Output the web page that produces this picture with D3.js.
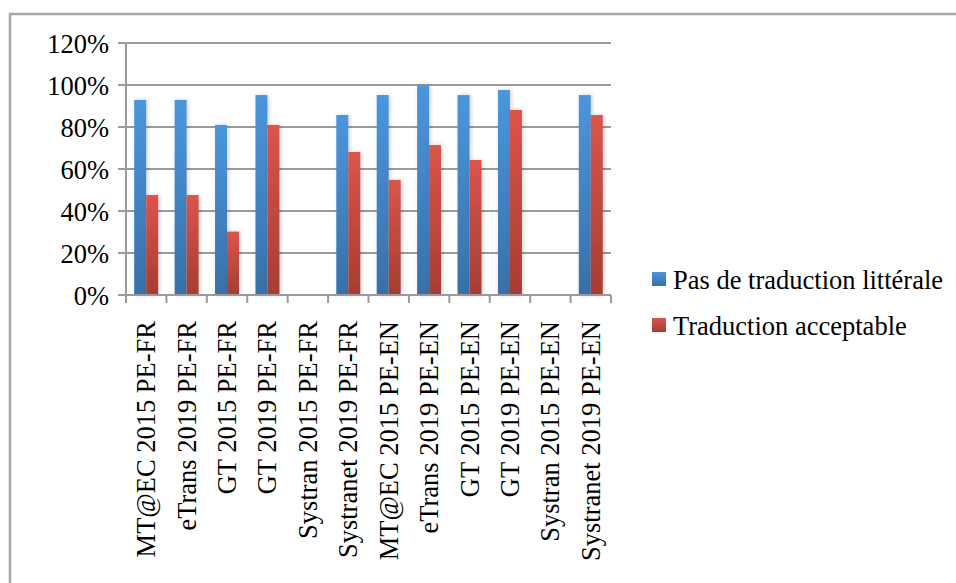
<!DOCTYPE html>
<html>
<head>
<meta charset="utf-8">
<script src="https://cdn.jsdelivr.net/npm/d3@7"></script>
<style>
  body { margin: 0; background: #fff; }
</style>
</head>
<body>
<svg id="chart"></svg>
<script>
// Catégories (axe X)
const categories = [
  "MT@EC 2015 PE-FR", "eTrans 2019 PE-FR", "GT 2015 PE-FR", "GT 2019 PE-FR",
  "Systran 2015 PE-FR", "Systranet 2019 PE-FR", "MT@EC 2015 PE-EN", "eTrans 2019 PE-EN",
  "GT 2015 PE-EN", "GT 2019 PE-EN", "Systran 2015 PE-EN", "Systranet 2019 PE-EN"
];
const seriesNames = ["Pas de traduction littérale", "Traduction acceptable"];
// Valeurs (en fraction), null = pas de barre
const pasLitterale = [0.929, 0.929, 0.81, 0.952, null, 0.857, 0.952, 1.0, 0.952, 0.976, null, 0.952];
const acceptable   = [0.476, 0.476, 0.302, 0.81, null, 0.681, 0.548, 0.714, 0.643, 0.881, null, 0.857];
const yTicks = [0, 0.2, 0.4, 0.6, 0.8, 1.0, 1.2];

const FONT = "'Liberation Serif', 'Times New Roman', 'DejaVu Serif', serif";
const W = 956, H = 583;
const margin = { left: 126, top: 43, right: 345, bottom: 288 };
const width = W - margin.left - margin.right;
const height = H - margin.top - margin.bottom;

const svg = d3.select("#chart").attr("width", W).attr("height", H)
  .attr("font-family", FONT);

// cadre extérieur
svg.append("rect")
  .attr("x", 10).attr("y", 14).attr("width", 960).attr("height", 600)
  .attr("fill", "none").attr("stroke", "#a6a6a6").attr("stroke-width", 2.5);

// dégradés
const defs = svg.append("defs");
const grads = [["gBlue", "#4b96dc", "#3870a8"], ["gRed", "#db544b", "#a63d34"]];
grads.forEach(([id, c1, c2]) => {
  const g = defs.append("linearGradient").attr("id", id)
    .attr("x1", 0).attr("y1", 0).attr("x2", 0).attr("y2", 1);
  g.append("stop").attr("offset", "0%").attr("stop-color", c1);
  g.append("stop").attr("offset", "100%").attr("stop-color", c2);
});
const f = defs.append("filter").attr("id", "shadow")
  .attr("x", "-30%").attr("y", "-10%").attr("width", "160%").attr("height", "120%");
f.append("feDropShadow").attr("dx", 1.5).attr("dy", 0).attr("stdDeviation", 2)
  .attr("flood-color", "#000").attr("flood-opacity", 0.18);

const g = svg.append("g").attr("transform", `translate(${margin.left},${margin.top})`);

const x = d3.scaleBand().domain(categories).range([0, width]).paddingInner(0).paddingOuter(0);
const xSub = d3.scaleBand().domain(seriesNames).range([0, 24]);
const y = d3.scaleLinear().domain([0, 1.2]).range([height, 0]);

// grille
g.append("g").selectAll("line").data(yTicks).join("line")
  .attr("x1", -8).attr("x2", width)
  .attr("y1", d => y(d)).attr("y2", d => y(d))
  .attr("stroke", "#9a9a9a").attr("stroke-width", 2);

// axe Y
const yAxis = g.append("g")
  .call(d3.axisLeft(y).tickValues(yTicks).tickFormat(d3.format(".0%")).tickSize(8).tickPadding(6));
yAxis.attr("font-family", FONT).attr("font-size", null);
yAxis.select(".domain").remove();
yAxis.selectAll("line").remove();
yAxis.selectAll("text").attr("font-family", FONT).attr("font-size", "26.5px")
  .attr("fill", "#000").attr("dy", "0.36em").attr("x", -17);
g.append("line").attr("x1", 0).attr("x2", 0).attr("y1", y(1.2)).attr("y2", height + 8)
  .attr("stroke", "#9a9a9a").attr("stroke-width", 2);

// barres
const data = categories.map((c, i) => ({ c, vals: [pasLitterale[i], acceptable[i]] }));
const groups = g.append("g").selectAll("g").data(data).join("g")
  .attr("transform", d => `translate(${x(d.c) + (x.bandwidth() - 24) / 2},0)`);
groups.selectAll("rect")
  .data(d => d.vals.map((v, j) => ({ s: seriesNames[j], v, j })).filter(e => e.v != null))
  .join("rect")
  .attr("x", e => xSub(e.s)).attr("width", xSub.bandwidth())
  .attr("y", e => y(e.v)).attr("height", e => height - y(e.v))
  .attr("fill", e => e.j === 0 ? "url(#gBlue)" : "url(#gRed)")
  .attr("filter", "url(#shadow)");

// axe X
g.append("line").attr("x1", 0).attr("x2", width).attr("y1", height).attr("y2", height)
  .attr("stroke", "#9a9a9a").attr("stroke-width", 2);
g.append("g").selectAll("line").data(d3.range(categories.length + 1)).join("line")
  .attr("x1", i => i * x.step()).attr("x2", i => i * x.step())
  .attr("y1", height).attr("y2", height + 8)
  .attr("stroke", "#9a9a9a").attr("stroke-width", 2);
g.append("g").selectAll("text").data(categories).join("text")
  .attr("transform", d => `translate(${x(d) + x.bandwidth() / 2 + 9},${height + 26}) rotate(-90)`)
  .attr("text-anchor", "end")
  .attr("font-family", FONT)
  .attr("font-size", "26.5px")
  .text(d => d);

// légende
const legend = svg.append("g").attr("transform", "translate(652,272)");
const colors = ["url(#gBlue)", "url(#gRed)"];
seriesNames.forEach((s, i) => {
  const row = legend.append("g").attr("transform", `translate(0,${i * 46})`);
  row.append("rect").attr("width", 14).attr("height", 14).attr("fill", colors[i]);
  row.append("text").attr("x", 21).attr("y", 17).attr("font-family", FONT)
    .attr("font-size", "26.5px").text(s);
});
</script>
</body>
</html>
